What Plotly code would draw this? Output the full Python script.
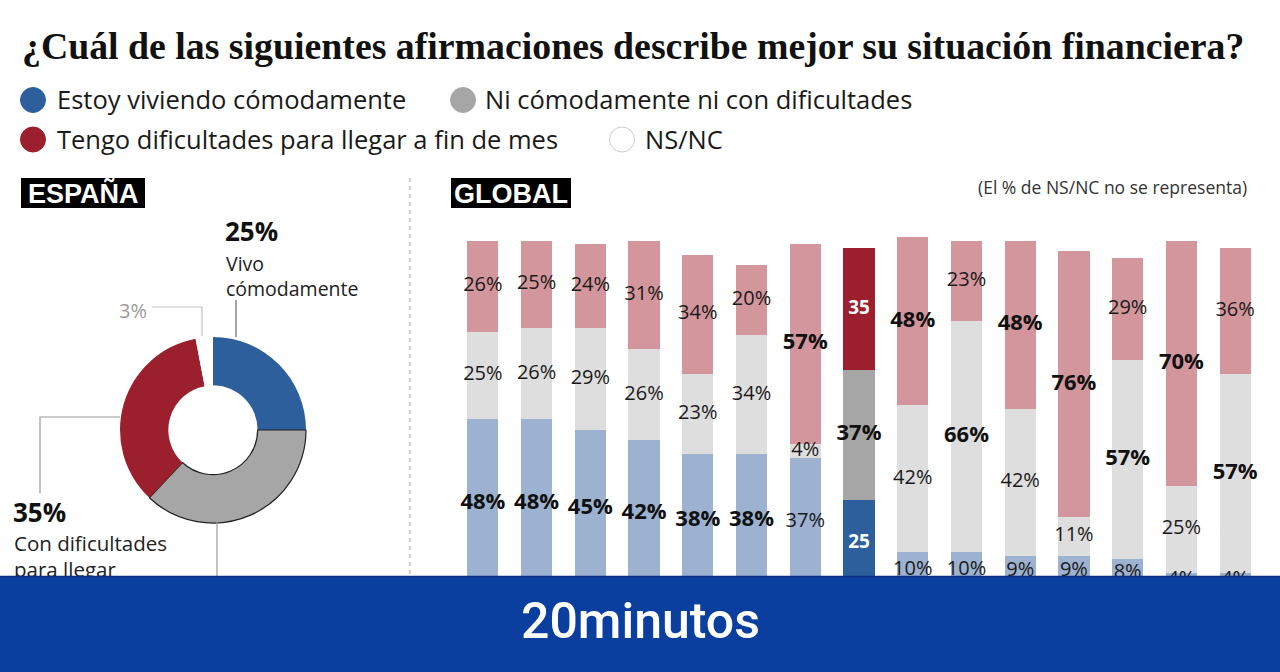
import plotly.graph_objects as go

# ---------------- data ----------------
bar_ids = list(range(15))
comfortable = [48, 48, 45, 42, 38, 38, 37, 25, 10, 10, 9, 9, 8, 4, 4]
neither = [25, 26, 29, 26, 23, 34, 4, 37, 42, 66, 42, 11, 57, 25, 57]
difficulties = [26, 25, 24, 31, 34, 20, 57, 35, 48, 23, 48, 76, 29, 70, 36]
spain_index = 7

pie_labels = ["Estoy viviendo cómodamente", "Ni cómodamente ni con dificultades",
              "Tengo dificultades para llegar a fin de mes", "NS/NC"]
pie_values = [25, 37, 35, 3]

title_text = "¿Cuál de las siguientes afirmaciones describe mejor su situación financiera?"

# ---------------- styles ----------------
W, H = 1280, 672
C_BLUE, C_GREY, C_RED = "#2d5f9d", "#a6a6a6", "#9b1f2c"
L_BLUE, L_GREY, L_RED = "#9cb2d0", "#dededf", "#d3969c"
BANNER = "#0a3e9f"
SANS = "Open Sans"


def px(x):
    return x / W


def py(y):
    return 1 - y / H


def pick(i, dark, light):
    return dark if i == spain_index else light


fig = go.Figure()

# stacked bars
series = [(comfortable, C_BLUE, L_BLUE), (neither, C_GREY, L_GREY), (difficulties, C_RED, L_RED)]
for vals, dark, light in series:
    fig.add_trace(go.Bar(
        x=bar_ids, y=vals,
        marker=dict(color=[pick(i, dark, light) for i in bar_ids], line=dict(width=0)),
        hoverinfo="skip", showlegend=False,
    ))

# bar labels (scatter text so that the banner can cover them)
groups = {"reg": ([], [], []), "bold": ([], [], []), "white": ([], [], [])}
for i in bar_ids:
    segs = [comfortable[i], neither[i], difficulties[i]]
    base = 0
    mx = max(segs)
    for v in segs:
        mid = base + v / 2
        base += v
        if i == spain_index and v != mx:
            g = "white"; t = f"{v}"
        elif v == mx:
            g = "bold"; t = f"{v}%"
        else:
            g = "reg"; t = f"{v}%"
        groups[g][0].append(i); groups[g][1].append(mid); groups[g][2].append(t)

styles = {
    "reg": dict(size=20, color="#1a1a1a", family=SANS, weight="normal"),
    "bold": dict(size=22, color="#111111", family=SANS, weight="bold"),
    "white": dict(size=19, color="#ffffff", family=SANS, weight="bold"),
}
for g, (xs, ys, ts) in groups.items():
    fig.add_trace(go.Scatter(x=xs, y=ys, text=ts, mode="text", textposition="middle center",
                             textfont=styles[g], hoverinfo="skip", showlegend=False,
                             cliponaxis=False))

# donut
fig.add_trace(go.Pie(
    labels=pie_labels, values=pie_values, hole=0.48, sort=False, direction="clockwise",
    rotation=0,
    marker=dict(colors=[C_BLUE, C_GREY, C_RED, "#ffffff"],
                line=dict(color=["rgba(0,0,0,0)", "#222222", "rgba(0,0,0,0)", "rgba(0,0,0,0)"],
                          width=[0, 1.2, 0, 0])),
    textinfo="none", hoverinfo="skip", showlegend=False,
    domain=dict(x=[px(120), px(306)], y=[py(523), py(337)]),
))

# pixel overlay axes for free text that the banner must cover
fig.add_trace(go.Scatter(
    x=[183], y=[590], text=["<b>37%</b>"], mode="text", textposition="middle right",
    textfont=dict(size=27, color="#111", family=SANS),
    xaxis="x2", yaxis="y2", hoverinfo="skip", showlegend=False, cliponaxis=False,
))
fig.add_trace(go.Scatter(
    x=[14], y=[559], text=["Con dificultades<br>para llegar"], mode="text",
    textposition="middle right",
    textfont=dict(size=20.5, color="#222", family=SANS),
    xaxis="x2", yaxis="y2", hoverinfo="skip", showlegend=False, cliponaxis=False,
))

shapes = []
anns = []

# title
anns.append(dict(x=px(20), y=py(46), xref="paper", yref="paper", xanchor="left", yanchor="middle",
                 text=f"<b>{title_text}</b>", showarrow=False,
                 font=dict(family="Liberation Serif", size=37.8, color="#111")))

# legend
legend_items = [
    (33, 100, 57, C_BLUE, pie_labels[0]),
    (463, 100, 485, C_GREY, pie_labels[1]),
    (33, 139.5, 57, C_RED, pie_labels[2]),
    (622, 139.5, 645, "#ffffff", pie_labels[3]),
]
for cx, cy, tx, col, lab in legend_items:
    shapes.append(dict(type="circle", xref="paper", yref="paper",
                       x0=px(cx - 12.5), x1=px(cx + 12.5), y0=py(cy + 12.5), y1=py(cy - 12.5),
                       fillcolor=col, line=dict(color="#cccccc" if col == "#ffffff" else col, width=1)))
    anns.append(dict(x=px(tx - 2), y=py(cy - 1), xref="paper", yref="paper", xanchor="left",
                     yanchor="middle", text=lab, showarrow=False,
                     font=dict(family=SANS, size=25.5, color="#1a1a1a")))

# section headers
for x0, x1, lab in [(21, 145, "ESPAÑA"), (451, 571, "GLOBAL")]:
    shapes.append(dict(type="rect", xref="paper", yref="paper", x0=px(x0), x1=px(x1),
                       y0=py(208), y1=py(178), fillcolor="#000", line=dict(width=0)))
    anns.append(dict(x=px((x0 + x1) / 2), y=py(193.5), xref="paper", yref="paper",
                     xanchor="center", yanchor="middle", text=f"<b>{lab}</b>", showarrow=False,
                     font=dict(family="Liberation Sans", size=27, color="#fff")))

anns.append(dict(x=px(1249), y=py(187), xref="paper", yref="paper", xanchor="right",
                 yanchor="middle", text="(El % de NS/NC no se representa)", showarrow=False,
                 font=dict(family=SANS, size=17.5, color="#333")))

# divider
shapes.append(dict(type="line", xref="paper", yref="paper", x0=px(410), x1=px(410),
                   y0=py(178), y1=py(576), line=dict(color="#9a9a9a", width=1, dash="4px,4px")))

# pie labels
pie_anns = [
    (224, 231, "<b>25%</b>", 26, "#111"),
    (225, 276, "Vivo<br>cómodamente", 19.5, "#222"),
    (118, 310, "3%", 20, "#9a9a9a"),
    (12, 512, "<b>35%</b>", 26, "#111"),
]
for x, y, t, s, c in pie_anns:
    anns.append(dict(x=px(x), y=py(y), xref="paper", yref="paper", xanchor="left",
                     yanchor="middle", align="left", text=t, showarrow=False, borderpad=0,
                     font=dict(family=SANS, size=s, color=c)))

leaders = [
    ([(236, 300), (236, 337)], "#666"),
    ([(152, 307), (202, 307), (202, 336)], "#c0c0c0"),
    ([(120, 417), (40, 417), (40, 493)], "#9a9a9a"),
    ([(217, 522), (217, 576)], "#9a9a9a"),
]
for pts, col in leaders:
    path = "M " + " L ".join(f"{px(a)},{py(b)}" for a, b in pts)
    shapes.append(dict(type="path", xref="paper", yref="paper", path=path,
                       line=dict(color=col, width=1.2)))

# banner
shapes.append(dict(type="rect", xref="paper", yref="paper", x0=0, x1=1, y0=0, y1=py(576),
                   fillcolor=BANNER, line=dict(width=0), layer="above"))
shapes.append(dict(type="line", xref="paper", yref="paper", x0=0, x1=1, y0=py(576.5), y1=py(576.5),
                   line=dict(color="#0a2f86", width=1.5), layer="above"))
anns.append(dict(x=0.5, y=py(621), xref="paper", yref="paper", xanchor="center", yanchor="middle",
                 text="20minutos", showarrow=False,
                 font=dict(family="Roboto", size=50, color="#fff", weight=500)))

fig.update_layout(
    width=W, height=H, margin=dict(l=0, r=0, t=0, b=0),
    paper_bgcolor="#ffffff", plot_bgcolor="rgba(0,0,0,0)",
    barmode="stack", bargap=0.42,
    xaxis=dict(domain=[px(456), px(1262)], range=[-0.5, 14.5], visible=False, fixedrange=True),
    yaxis=dict(domain=[py(587), py(237)], range=[0, 100], visible=False, fixedrange=True),
    xaxis2=dict(domain=[0, 1], range=[0, W], visible=False, anchor="y2"),
    yaxis2=dict(domain=[0, 1], range=[H, 0], visible=False, anchor="x2"),
    shapes=shapes, annotations=anns,
)

fig.write_html("out.html", config={"displayModeBar": False},
               post_script="document.body.style.margin='0';document.body.style.overflow='hidden';")
